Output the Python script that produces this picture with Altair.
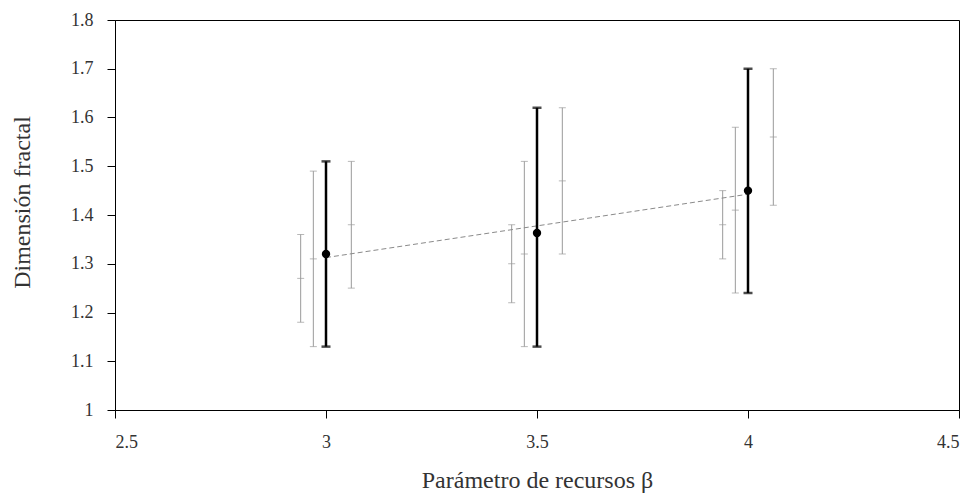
import altair as alt
import pandas as pd

groups = [3.0, 3.5, 4.0]
black_mean = [1.32, 1.363, 1.45]
black_lo = [1.13, 1.13, 1.24]
black_hi = [1.51, 1.62, 1.70]

gray_x = [2.94, 2.97, 3.06, 3.44, 3.47, 3.56, 3.94, 3.97, 4.06]
gray_mid = [1.27, 1.31, 1.38, 1.30, 1.32, 1.47, 1.38, 1.41, 1.56]
gray_lo = [1.18, 1.13, 1.25, 1.22, 1.13, 1.32, 1.31, 1.24, 1.42]
gray_hi = [1.36, 1.49, 1.51, 1.38, 1.51, 1.62, 1.45, 1.58, 1.70]

x_ticks = [2.5, 3.0, 3.5, 4.0, 4.5]
y_ticks = [1.0, 1.1, 1.2, 1.3, 1.4, 1.5, 1.6, 1.7, 1.8]

black = pd.DataFrame({"x": groups, "m": black_mean, "lo": black_lo, "hi": black_hi})
gray = pd.DataFrame({"x": gray_x, "m": gray_mid, "lo": gray_lo, "hi": gray_hi})

FONT = "Liberation Serif"
GRAY = "#9a9a9a"
TXT = "#333333"

xs = alt.Scale(domain=[2.5, 4.5], nice=False, zero=False)
ys = alt.Scale(domain=[1.0, 1.8], nice=False, zero=False)

xaxis = alt.Axis(values=x_ticks, format="~g", title="Parámetro de recursos β",
                 grid=False, tickSize=8, labelPadding=15, titleY=70,
                 titleBaseline="middle", labelFont=FONT, titleFont=FONT,
                 labelFontSize=18, titleFontSize=24, labelColor=TXT, titleColor=TXT)
yaxis = alt.Axis(values=y_ticks, format="~g", title="Dimensión fractal",
                 grid=False, tickSize=8, labelPadding=14, titleX=-93, titleY=182,
                 titleAlign="center", titleBaseline="middle", titleAngle=-90,
                 labelFont=FONT, titleFont=FONT,
                 labelFontSize=18, titleFontSize=24, labelColor=TXT, titleColor=TXT)


def X():
    return alt.X("x:Q", scale=xs, axis=xaxis)


def Y(field):
    return alt.Y(f"{field}:Q", scale=ys, axis=yaxis)


gray_rule = alt.Chart(gray).mark_rule(color=GRAY, strokeWidth=1).encode(
    x=X(), y=Y("lo"), y2="hi:Q")
gray_lo_t = alt.Chart(gray).mark_tick(color=GRAY, orient="horizontal", size=7, thickness=1).encode(
    x=X(), y=Y("lo"))
gray_hi_t = alt.Chart(gray).mark_tick(color=GRAY, orient="horizontal", size=7, thickness=1).encode(
    x=X(), y=Y("hi"))
gray_m_t = alt.Chart(gray).mark_tick(color=GRAY, orient="horizontal", size=7, thickness=1).encode(
    x=X(), y=Y("m"))

reg = alt.Chart(black).transform_regression("x", "m", extent=[3.0, 4.0]).mark_line(
    color="#8a8a8a", strokeWidth=1, strokeDash=[5, 3]).encode(x=X(), y=Y("m"))

black_rule = alt.Chart(black).mark_rule(color="black", strokeWidth=2.5).encode(
    x=X(), y=Y("lo"), y2="hi:Q")
black_lo_t = alt.Chart(black).mark_tick(color="black", orient="horizontal", size=9, thickness=2.5).encode(
    x=X(), y=Y("lo"))
black_hi_t = alt.Chart(black).mark_tick(color="black", orient="horizontal", size=9, thickness=2.5).encode(
    x=X(), y=Y("hi"))
black_pt = alt.Chart(black).mark_circle(color="black", size=70, opacity=1).encode(
    x=X(), y=Y("m"))

chart = alt.layer(gray_rule, gray_lo_t, gray_hi_t, gray_m_t, reg,
                  black_rule, black_lo_t, black_hi_t, black_pt).properties(
    width=844, height=390,
    autosize=alt.AutoSizeParams(type="none"),
    padding={"left": 115, "top": 20, "right": 20, "bottom": 83},
    background="white",
).configure(font=FONT).configure_view(stroke="black", strokeWidth=1).configure_axis(
    domainColor="black", tickColor="black",
    labelFont=FONT, titleFont=FONT, labelFontSize=18, titleFontSize=24,
    labelColor=TXT, titleColor=TXT,
    titleFontWeight="normal", domainWidth=1, tickWidth=1,
)

chart.save("out.html", embed_options={"renderer": "svg", "actions": False})
